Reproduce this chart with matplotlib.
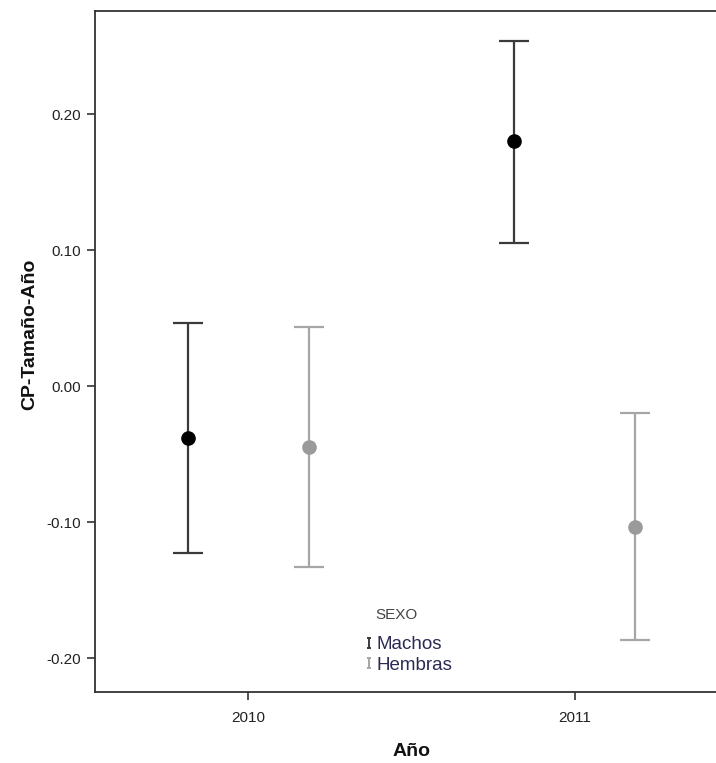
import matplotlib
matplotlib.use("Agg")
import matplotlib.pyplot as plt
from matplotlib.path import Path
from matplotlib.lines import Line2D
import numpy as np

plt.rcParams['font.family'] = ['Liberation Sans', 'DejaVu Sans']

years = [2010, 2011]
groups = ["Machos", "Hembras"]
machos_mean = [-0.038, 0.180]
machos_low = [-0.1226, 0.1055]
machos_high = [0.0465, 0.2535]
hembras_mean = [-0.0445, -0.1033]
hembras_low = [-0.1327, -0.1864]
hembras_high = [0.0437, -0.0200]
yticks = [-0.20, -0.10, 0.00, 0.10, 0.20]

W, H = 716, 763
fig = plt.figure(figsize=(W / 100, H / 100), dpi=100)
ax = fig.add_axes([95 / W, 1 - 692 / H, 633 / W, (692 - 11) / H])

offset = 0.185
styles = {
    "Machos": dict(line="#3a3a3a", marker="#000000"),
    "Hembras": dict(line="#a6a6a6", marker="#9a9a9a"),
}
data = {
    "Machos": (machos_mean, machos_low, machos_high, -offset),
    "Hembras": (hembras_mean, hembras_low, hembras_high, offset),
}
for g in groups:
    m, lo, hi, off = data[g]
    m = np.array(m); lo = np.array(lo); hi = np.array(hi)
    x = np.array(years) + off
    ax.errorbar(x, m, yerr=[m - lo, hi - m], fmt='none', ecolor=styles[g]["line"],
                elinewidth=1.6, capsize=11, capthick=1.6, zorder=2)
    ax.plot(x, m, 'o', color=styles[g]["marker"], markersize=9.5, zorder=3)

ax.set_xlim(2009.532, 2011.468)
ax.set_ylim(-0.2248, 0.2757)
ax.set_xticks(years)
ax.set_xticklabels([str(y) for y in years])
ax.set_yticks(yticks)
ax.set_yticklabels([f"{v:.2f}" for v in yticks])
ax.tick_params(axis='both', labelsize=11, length=6, width=1.2, color="#333333",
               labelcolor="#222222")
ax.tick_params(axis='x', pad=8)
ax.tick_params(axis='y', pad=4)
for s in ["left", "bottom", "top"]:
    ax.spines[s].set_linewidth(1.3)
    ax.spines[s].set_color("#333333")
ax.spines["right"].set_visible(False)

ax.set_xlabel("Año", fontsize=14, fontweight='bold', color="#111111")
ax.xaxis.set_label_coords(0.5, -(751 - 692) / 681)
ax.xaxis.label.set_va('center')
ax.set_ylabel("CP-Tamaño-Año", fontsize=14, fontweight='bold', color="#111111")
ax.yaxis.set_label_coords((30 - 95) / 633, (692 - 334) / 681)
ax.yaxis.label.set_va('center')

# legend with I-shaped error-bar markers
ipath = Path([(-0.5, 1), (0.5, 1), (0, 1), (0, -1), (-0.5, -1), (0.5, -1)],
             [Path.MOVETO, Path.LINETO, Path.MOVETO, Path.LINETO, Path.MOVETO, Path.LINETO])
handles = [Line2D([], [], linestyle='none', marker=ipath, markersize=7,
                  markeredgewidth=1.4, markeredgecolor=styles[g]["line"],
                  markerfacecolor='none') for g in groups]
fig.text(396 / W, 1 - 615 / H, "SEXO", ha='center', va='center', fontsize=11,
         color="#444444")
leg = ax.legend(handles, groups, frameon=False, fontsize=13.5,
                handlelength=0.5, handletextpad=0.15, borderpad=0, borderaxespad=0,
                labelspacing=0.2, loc='upper left',
                bbox_to_anchor=(364 / W, 1 - 636 / H), bbox_transform=fig.transFigure)
for t in leg.get_texts():
    t.set_color("#2a2a55")

fig.savefig("out.png", dpi=100)
